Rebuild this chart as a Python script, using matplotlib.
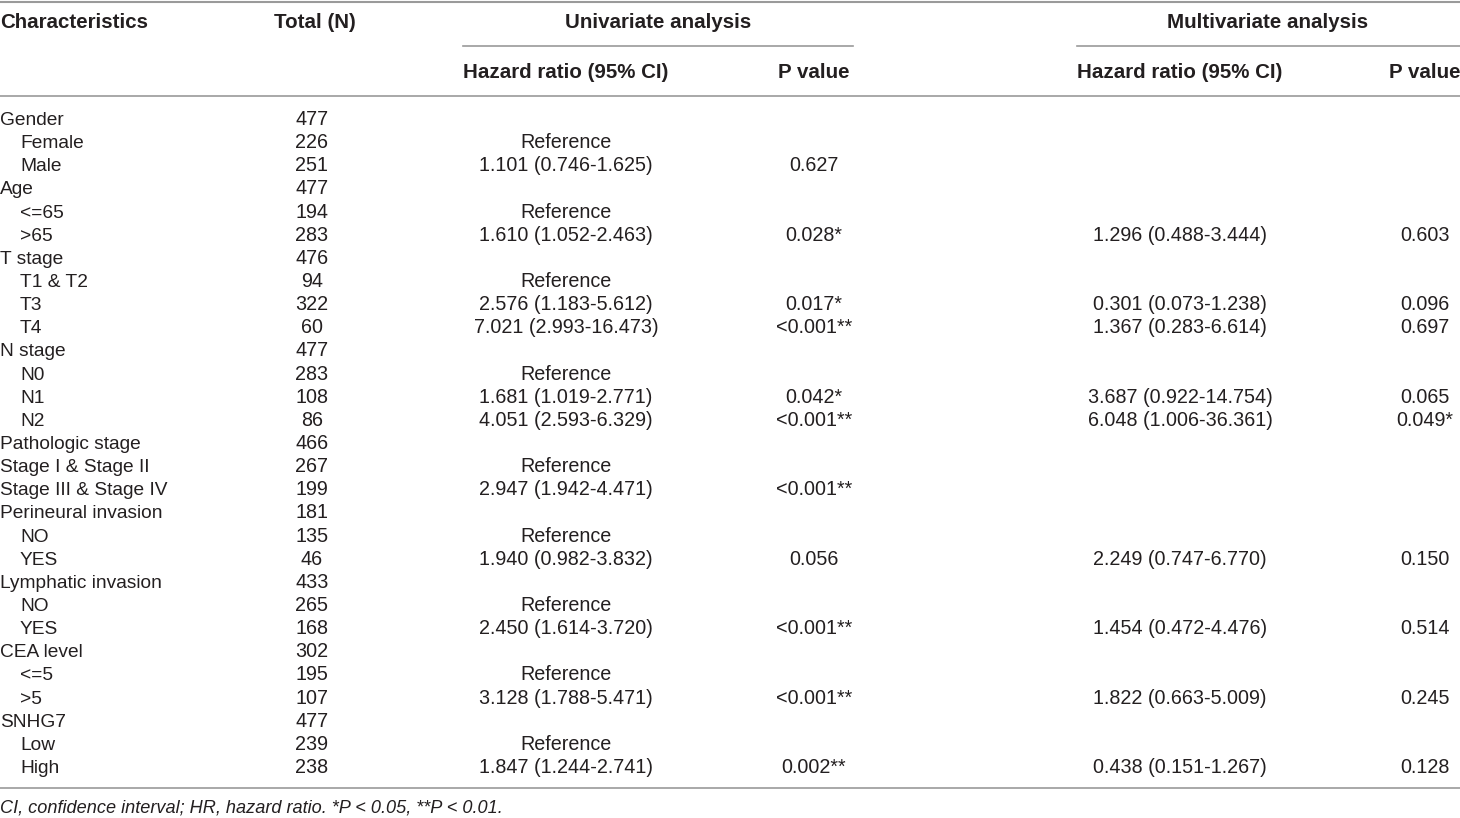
import matplotlib.pyplot as plt

plt.rcParams['font.family'] = ['Liberation Sans', 'DejaVu Sans']

# table content
characteristics = ["Gender", "Female", "Male", "Age", "<=65", ">65",
                   "T stage", "T1 & T2", "T3", "T4",
                   "N stage", "N0", "N1", "N2",
                   "Pathologic stage", "Stage I & Stage II", "Stage III & Stage IV",
                   "Perineural invasion", "NO", "YES",
                   "Lymphatic invasion", "NO", "YES",
                   "CEA level", "<=5", ">5",
                   "SNHG7", "Low", "High"]
indented = [0, 1, 1, 0, 1, 1,
            0, 1, 1, 1,
            0, 1, 1, 1,
            0, 0, 0,
            0, 1, 1,
            0, 1, 1,
            0, 1, 1,
            0, 1, 1]
totals = ["477", "226", "251", "477", "194", "283",
          "476", "94", "322", "60",
          "477", "283", "108", "86",
          "466", "267", "199",
          "181", "135", "46",
          "433", "265", "168",
          "302", "195", "107",
          "477", "239", "238"]
uni_hr = ["", "Reference", "1.101 (0.746-1.625)", "", "Reference", "1.610 (1.052-2.463)",
          "", "Reference", "2.576 (1.183-5.612)", "7.021 (2.993-16.473)",
          "", "Reference", "1.681 (1.019-2.771)", "4.051 (2.593-6.329)",
          "", "Reference", "2.947 (1.942-4.471)",
          "", "Reference", "1.940 (0.982-3.832)",
          "", "Reference", "2.450 (1.614-3.720)",
          "", "Reference", "3.128 (1.788-5.471)",
          "", "Reference", "1.847 (1.244-2.741)"]
uni_p = ["", "", "0.627", "", "", "0.028*",
         "", "", "0.017*", "<0.001**",
         "", "", "0.042*", "<0.001**",
         "", "", "<0.001**",
         "", "", "0.056",
         "", "", "<0.001**",
         "", "", "<0.001**",
         "", "", "0.002**"]
multi_hr = ["", "", "", "", "", "1.296 (0.488-3.444)",
            "", "", "0.301 (0.073-1.238)", "1.367 (0.283-6.614)",
            "", "", "3.687 (0.922-14.754)", "6.048 (1.006-36.361)",
            "", "", "",
            "", "", "2.249 (0.747-6.770)",
            "", "", "1.454 (0.472-4.476)",
            "", "", "1.822 (0.663-5.009)",
            "", "", "0.438 (0.151-1.267)"]
multi_p = ["", "", "", "", "", "0.603",
           "", "", "0.096", "0.697",
           "", "", "0.065", "0.049*",
           "", "", "",
           "", "", "0.150",
           "", "", "0.514",
           "", "", "0.245",
           "", "", "0.128"]
footnote = "CI, confidence interval; HR, hazard ratio. *P < 0.05, **P < 0.01."

fig = plt.figure(figsize=(14.6, 8.18), dpi=100)
ax = fig.add_axes([0, 0, 1, 1])
ax.set_xlim(0, 1460)
ax.set_ylim(818, 0)
ax.axis('off')

txt = '#231f20'
line_c = '#9a9a9a'
hs = 14.8
bs = 14.2
ls = 13.8  # first column a touch narrower

# rules
ax.plot([0, 1460], [1.5, 1.5], color=line_c, lw=1.5)
ax.plot([463, 853], [46, 46], color=line_c, lw=1.2)
ax.plot([1077, 1460], [46, 46], color=line_c, lw=1.2)
ax.plot([0, 1460], [96, 96], color=line_c, lw=1.2)
ax.plot([0, 1460], [788, 788], color=line_c, lw=1.2)

# header
hy1, hy2 = 22.5, 72.5
ax.text(0, hy1, "Characteristics", fontsize=hs, fontweight='bold', color=txt, va='center', ha='left')
ax.text(315, hy1, "Total (N)", fontsize=hs, fontweight='bold', color=txt, va='center', ha='center')
ax.text(658, hy1, "Univariate analysis", fontsize=hs, fontweight='bold', color=txt, va='center', ha='center')
ax.text(1268, hy1, "Multivariate analysis", fontsize=hs, fontweight='bold', color=txt, va='center', ha='center')
ax.text(566, hy2, "Hazard ratio (95% CI)", fontsize=hs, fontweight='bold', color=txt, va='center', ha='center')
ax.text(814, hy2, "P value", fontsize=hs, fontweight='bold', color=txt, va='center', ha='center')
ax.text(1180, hy2, "Hazard ratio (95% CI)", fontsize=hs, fontweight='bold', color=txt, va='center', ha='center')
ax.text(1425, hy2, "P value", fontsize=hs, fontweight='bold', color=txt, va='center', ha='center')

# body rows, all on a shared baseline
y0 = 125
step = (773 - 125) / (len(characteristics) - 1)
for i, name in enumerate(characteristics):
    y = y0 + i * step
    ax.text(20 if indented[i] else 0, y, name, fontsize=ls, color=txt, va='baseline', ha='left')
    ax.text(312, y, totals[i], fontsize=bs, color=txt, va='baseline', ha='center')
    ax.text(566, y, uni_hr[i], fontsize=bs, color=txt, va='baseline', ha='center')
    ax.text(814, y, uni_p[i], fontsize=bs, color=txt, va='baseline', ha='center')
    ax.text(1180, y, multi_hr[i], fontsize=bs, color=txt, va='baseline', ha='center')
    ax.text(1425, y, multi_p[i], fontsize=bs, color=txt, va='baseline', ha='center')

ax.text(0, 808, footnote, fontsize=13.1, style='italic', color=txt, va='center', ha='left')

fig.savefig("out.png", dpi=100)
